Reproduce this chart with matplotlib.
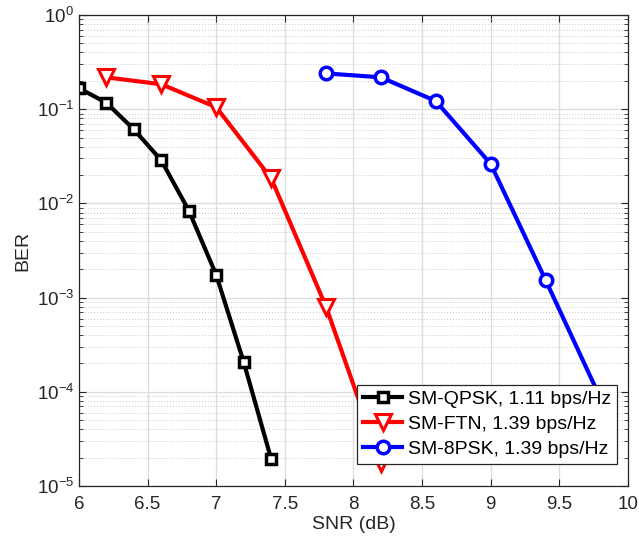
import matplotlib.pyplot as plt
import matplotlib.ticker as mticker

plt.rcParams['font.family'] = ['Liberation Sans', 'DejaVu Sans']
plt.rcParams['mathtext.fontset'] = 'custom'
plt.rcParams['mathtext.rm'] = 'Liberation Sans'

# data
snr_qpsk = [6.0, 6.2, 6.4, 6.6, 6.8, 7.0, 7.2, 7.4]
ber_qpsk = [0.167, 0.117, 0.061, 0.0286, 0.0084, 0.00174, 2.07e-4, 1.94e-5]

snr_ftn = [6.2, 6.6, 7.0, 7.4, 7.8, 8.2]
ber_ftn = [0.218, 0.184, 0.105, 0.0185, 8.0e-4, 1.75e-5]

snr_8psk = [7.8, 8.2, 8.6, 9.0, 9.4, 9.8]
ber_8psk = [0.24, 0.218, 0.122, 0.0262, 0.00153, 8.5e-5]

labels = ['SM-QPSK, 1.11 bps/Hz', 'SM-FTN, 1.39 bps/Hz', 'SM-8PSK, 1.39 bps/Hz']

fig = plt.figure(figsize=(6.39, 5.44), dpi=100)
ax = fig.add_axes([0.1236, 0.1066, 0.8592, 0.8658])

ax.semilogy(snr_qpsk, ber_qpsk, color='black', lw=3, marker='s', ms=7,
            mfc='white', mew=2.5, label=labels[0])
ax.semilogy(snr_ftn, ber_ftn, color='red', lw=3, marker='v', ms=11,
            mfc='white', mew=2.2, label=labels[1])
ax.semilogy(snr_8psk, ber_8psk, color='blue', lw=3, marker='o', ms=9,
            mfc='white', mew=2.5, label=labels[2])

ax.set_xlim(6, 10)
ax.set_ylim(1e-5, 1)
ax.set_xticks([6, 6.5, 7, 7.5, 8, 8.5, 9, 9.5, 10])
ax.xaxis.set_major_formatter(mticker.FuncFormatter(lambda v, p: f'{v:g}'))
ax.yaxis.set_major_locator(mticker.LogLocator(base=10, numticks=10))
ax.yaxis.set_minor_locator(mticker.LogLocator(base=10, subs=range(2, 10), numticks=10))
ax.yaxis.set_minor_formatter(mticker.NullFormatter())

ax.grid(True, which='major', color='#dcdcdc', lw=0.9, ls='-')
ax.grid(True, which='minor', axis='y', color='#c8c8c8', lw=0.7, ls=(0, (1, 2)))
ax.set_axisbelow(True)

ax.tick_params(which='both', direction='in', top=True, right=True,
               colors='#262626', labelsize=13.5)
ax.tick_params(which='major', length=5)
ax.tick_params(which='minor', length=3)
ax.tick_params(axis='x', pad=7)
for s in ax.spines.values():
    s.set_color('#262626')
    s.set_linewidth(0.9)

ax.set_xlabel('SNR (dB)', fontsize=14, color='#262626', labelpad=2)
ax.set_ylabel('BER', fontsize=14, color='#262626', labelpad=4)

leg = ax.legend(loc='lower right', fontsize=14, fancybox=False, framealpha=1,
                edgecolor='#262626', borderpad=0.3, handlelength=2.0,
                handletextpad=0.3, labelspacing=0.38, borderaxespad=0.0,
                bbox_to_anchor=(0.98, 0.047))
leg.get_frame().set_linewidth(0.9)

fig.savefig('out.png', dpi=100)
